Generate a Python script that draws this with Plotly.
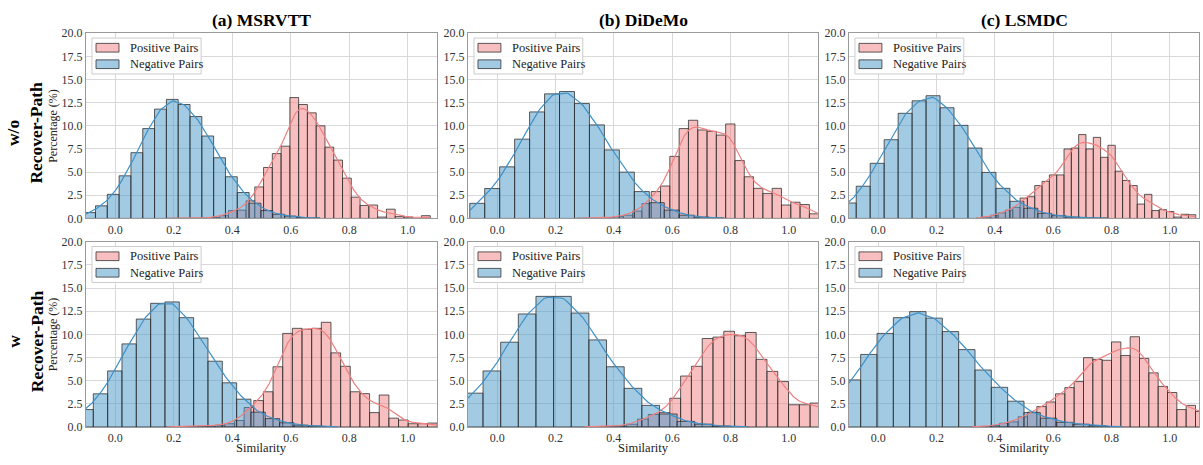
import numpy as np
import plotly.graph_objects as go

# ---------------- text ----------------
TITLES = ["(a) MSRVTT", "(b) DiDeMo", "(c) LSMDC"]
ROW_LABELS = ["w/o<br>Recover-Path", "w<br>Recover-Path"]
SERIES_NAMES = ["Positive Pairs", "Negative Pairs"]
Y_LABEL = "Percentage (%)"
X_LABEL = "Similarity"
X_TICKS = [0.0, 0.2, 0.4, 0.6, 0.8, 1.0]
Y_TICKS = [0.0, 2.5, 5.0, 7.5, 10.0, 12.5, 15.0, 17.5, 20.0]

# ---------------- data (histogram percentages, first bin edge, bin width) ----------------
# (a) MSRVTT, w/o Recover-Path
msrvtt_wo_pos_edge0, msrvtt_wo_pos_binw = 0.177, 0.030
msrvtt_wo_pos = [0.01, 0.01, 0.02, 0.03, 0.05, 0.1, 0.3, 0.85, 0.9, 1.9, 3.4, 5.5, 7.0, 7.8,
                 13.05, 12.3, 11.4, 10.0, 7.7, 6.3, 4.35, 2.3, 1.4, 1.45, 0.15, 1.0, 0.2, 0.15, 0.0, 0.3]
msrvtt_wo_neg_edge0, msrvtt_wo_neg_binw = -0.108, 0.0404
msrvtt_wo_neg = [0.63, 1.36, 2.6, 4.6, 7.1, 9.7, 11.8, 12.85, 12.3, 11.0, 8.9, 6.55, 4.5, 2.8,
                 1.65, 0.85, 0.45, 0.25, 0.1, 0.05]

# (b) DiDeMo, w/o Recover-Path
didemo_wo_pos_edge0, didemo_wo_pos_binw = 0.273, 0.0319
didemo_wo_pos = [0.02, 0.03, 0.05, 0.1, 0.2, 0.35, 0.8, 1.6, 2.9, 3.5, 6.7, 9.7, 10.6, 9.55, 9.4,
                 9.0, 10.2, 6.25, 4.5, 3.25, 2.7, 3.25, 1.45, 1.75, 1.5, 0.5, 0.15]
didemo_wo_neg_edge0, didemo_wo_neg_binw = -0.094, 0.0513
didemo_wo_neg = [1.63, 3.23, 5.57, 8.56, 11.5, 13.45, 13.7, 12.4, 10.1, 7.4, 5.0, 2.9, 1.7, 0.9,
                 0.35, 0.15, 0.05]

# (c) LSMDC, w/o Recover-Path
lsmdc_wo_pos_edge0, lsmdc_wo_pos_binw = 0.336, 0.0251
lsmdc_wo_pos = [0.05, 0.15, 0.35, 0.6, 0.9, 1.2, 2.2, 2.35, 3.55, 4.0, 4.7, 4.7, 7.5, 7.6, 9.05,
                7.5, 8.75, 6.6, 7.9, 5.1, 4.1, 3.55, 1.55, 2.6, 0.85, 0.95, 0.75, 0.15, 0.45, 0.4]
lsmdc_wo_neg_edge0, lsmdc_wo_neg_binw = -0.171, 0.0479
lsmdc_wo_neg = [0.8, 1.67, 3.48, 5.95, 8.5, 11.35, 12.7, 13.25, 11.95, 10.05, 7.6, 4.97, 3.25,
                1.85, 1.1, 0.55, 0.3, 0.15, 0.08, 0.04]

# (a) MSRVTT, w Recover-Path
msrvtt_w_pos_edge0, msrvtt_w_pos_binw = 0.1765, 0.033
msrvtt_w_pos = [0.02, 0.03, 0.05, 0.05, 0.1, 0.2, 0.35, 0.7, 2.1, 2.85, 3.8, 6.5, 10.1, 10.65,
                10.55, 10.65, 11.3, 8.0, 6.55, 3.8, 3.6, 1.55, 3.45, 0.95, 0.75, 0.35, 0.35, 0.42]
msrvtt_w_neg_edge0, msrvtt_w_neg_binw = -0.173, 0.049
msrvtt_w_neg = [0.9, 1.88, 3.58, 6.05, 8.97, 11.65, 13.35, 13.5, 11.8, 9.6, 7.1, 4.77, 3.0, 1.6,
                0.9, 0.45, 0.2, 0.1, 0.05]

# (b) DiDeMo, w Recover-Path
didemo_w_pos_edge0, didemo_w_pos_binw = 0.296, 0.037
didemo_w_pos = [0.02, 0.03, 0.05, 0.1, 0.3, 0.85, 1.35, 1.55, 3.1, 5.5, 6.55, 9.55, 9.7, 10.33,
                9.85, 10.2, 7.3, 6.0, 4.9, 2.4, 2.4, 2.58, 2.0, 1.5, 1.0, 0.6, 0.3]
didemo_w_neg_edge0, didemo_w_neg_binw = -0.1695, 0.0605
didemo_w_neg = [2.0, 3.65, 6.05, 9.15, 12.2, 14.1, 14.1, 12.3, 9.4, 6.5, 4.17, 2.33, 1.4, 0.6,
                0.3, 0.1, 0.05]

# (c) LSMDC, w Recover-Path
lsmdc_w_pos_edge0, lsmdc_w_pos_binw = 0.320, 0.032
lsmdc_w_pos = [0.03, 0.05, 0.15, 0.4, 0.55, 1.1, 1.6, 2.2, 2.7, 3.58, 4.25, 4.9, 7.48, 7.3, 7.2,
               9.18, 7.72, 9.74, 7.4, 5.84, 4.38, 3.72, 1.88, 2.33, 1.67, 1.3, 0.8, 0.5]
lsmdc_w_neg_edge0, lsmdc_w_neg_binw = -0.228, 0.056
lsmdc_w_neg = [1.5, 3.2, 5.08, 7.83, 10.1, 11.8, 12.45, 11.75, 10.3, 8.35, 6.15, 4.28, 2.78,
               1.55, 0.95, 0.5, 0.3, 0.15, 0.05]

PANELS = [
    (msrvtt_wo_pos_edge0, msrvtt_wo_pos_binw, msrvtt_wo_pos, msrvtt_wo_neg_edge0, msrvtt_wo_neg_binw, msrvtt_wo_neg),
    (didemo_wo_pos_edge0, didemo_wo_pos_binw, didemo_wo_pos, didemo_wo_neg_edge0, didemo_wo_neg_binw, didemo_wo_neg),
    (lsmdc_wo_pos_edge0, lsmdc_wo_pos_binw, lsmdc_wo_pos, lsmdc_wo_neg_edge0, lsmdc_wo_neg_binw, lsmdc_wo_neg),
    (msrvtt_w_pos_edge0, msrvtt_w_pos_binw, msrvtt_w_pos, msrvtt_w_neg_edge0, msrvtt_w_neg_binw, msrvtt_w_neg),
    (didemo_w_pos_edge0, didemo_w_pos_binw, didemo_w_pos, didemo_w_neg_edge0, didemo_w_neg_binw, didemo_w_neg),
    (lsmdc_w_pos_edge0, lsmdc_w_pos_binw, lsmdc_w_pos, lsmdc_w_neg_edge0, lsmdc_w_neg_binw, lsmdc_w_neg),
]

# ---------------- style ----------------
W, H = 1203, 465
SERIF = "Liberation Serif"
POS_FILL = "rgba(240,128,128,0.5)"
POS_LINE = "rgb(240,128,128)"
NEG_FILL = "rgba(70,150,200,0.5)"
NEG_LINE = "rgb(62,145,200)"
EDGE = "rgba(40,40,40,0.75)"
COL_PX = [(86, 437), (468, 818), (849, 1199)]
ROW_PX = [(27, 218), (242, 433)]


def px_x(p):
    return p / W


def px_y(p):
    return (H - p) / H


def smooth_curve(edge0, binw, heights, bw_factor):
    h = np.asarray(heights, dtype=float)
    n = len(h)
    centers = edge0 + binw * (np.arange(n) + 0.5)
    xs = np.linspace(edge0, edge0 + binw * n, 400)
    s = binw * bw_factor
    k = np.exp(-0.5 * ((xs[:, None] - centers[None, :]) / s) ** 2) / (s * np.sqrt(2 * np.pi))
    ys = (k * h[None, :]).sum(axis=1) * binw
    return xs, ys


fig = go.Figure()
layout = dict(
    width=W, height=H, margin=dict(l=0, r=0, t=0, b=0),
    paper_bgcolor="white", plot_bgcolor="white", barmode="overlay",
    showlegend=False, hovermode=False, font=dict(family=SERIF, color="#222"),
)
annotations = []
shapes = []

for k, (pe0, pw, ph, ne0, nw, nh) in enumerate(PANELS):
    r, c = divmod(k, 3)
    sid = "" if k == 0 else str(k + 1)
    xa, ya = "x" + sid, "y" + sid
    pc = pe0 + pw * (np.arange(len(ph)) + 0.5)
    nc = ne0 + nw * (np.arange(len(nh)) + 0.5)
    fig.add_trace(go.Bar(x=pc, y=ph, width=pw, xaxis=xa, yaxis=ya, name=SERIES_NAMES[0],
                         marker=dict(color=POS_FILL, opacity=1, line=dict(color=EDGE, width=1))))
    fig.add_trace(go.Bar(x=nc, y=nh, width=nw, xaxis=xa, yaxis=ya, name=SERIES_NAMES[1],
                         marker=dict(color=NEG_FILL, opacity=1, line=dict(color=EDGE, width=1))))
    xs, ys = smooth_curve(pe0, pw, ph, 1.0)
    fig.add_trace(go.Scatter(x=xs, y=ys, mode="lines", xaxis=xa, yaxis=ya,
                             line=dict(color=POS_LINE, width=1.2), hoverinfo="skip"))
    xs, ys = smooth_curve(ne0, nw, nh, 0.55)
    fig.add_trace(go.Scatter(x=xs, y=ys, mode="lines", xaxis=xa, yaxis=ya,
                             line=dict(color=NEG_LINE, width=1.2), hoverinfo="skip"))

    x0p, x1p = COL_PX[c]
    y0p, y1p = ROW_PX[r]
    common = dict(showgrid=True, gridcolor="#d9d9d9", gridwidth=1, showline=True,
                  linecolor="#9a9a9a", linewidth=1.2, mirror=True, ticks="", zeroline=False,
                  tickfont=dict(family=SERIF, size=12, color="#333"), tickformat=".1f")
    layout["xaxis" + sid] = dict(domain=[px_x(x0p), px_x(x1p)], range=[-0.1, 1.1],
                                 tickvals=X_TICKS, anchor=ya, **common)
    layout["yaxis" + sid] = dict(domain=[px_y(y1p), px_y(y0p)], range=[0, 20],
                                 tickvals=Y_TICKS, anchor=xa, **common)

    xr, yr = xa + " domain", ya + " domain"
    shapes.append(dict(type="rect", xref=xr, yref=yr, x0=0.017, x1=0.328, y0=0.780, y1=0.974,
                       line=dict(color="#cccccc", width=1), fillcolor="rgba(255,255,255,0.85)"))
    shapes.append(dict(type="rect", xref=xr, yref=yr, x0=0.0285, x1=0.094, y0=0.898, y1=0.945,
                       line=dict(color=EDGE, width=1), fillcolor=POS_FILL))
    shapes.append(dict(type="rect", xref=xr, yref=yr, x0=0.0285, x1=0.094, y0=0.809, y1=0.856,
                       line=dict(color=EDGE, width=1), fillcolor=NEG_FILL))
    for name, yc in zip(SERIES_NAMES, [0.9215, 0.8325]):
        annotations.append(dict(text=name, xref=xr, yref=yr, x=0.1197, y=yc, xanchor="left",
                                yanchor="middle", showarrow=False,
                                font=dict(family=SERIF, size=12.5, color="#222")))

    if r == 0:
        annotations.append(dict(text="<b>" + TITLES[c] + "</b>", xref="paper", yref="paper",
                                x=px_x((x0p + x1p) / 2), y=px_y(13), xanchor="center",
                                yanchor="middle", showarrow=False,
                                font=dict(family=SERIF, size=17.5, color="black")))
    if r == 1:
        annotations.append(dict(text=X_LABEL, xref="paper", yref="paper",
                                x=px_x((x0p + x1p) / 2), y=px_y(455), xanchor="center",
                                yanchor="middle", showarrow=False,
                                font=dict(family=SERIF, size=12.5, color="#222")))
    if c == 0:
        annotations.append(dict(text=Y_LABEL, xref="paper", yref="paper", x=px_x(53),
                                y=px_y((y0p + y1p) / 2), xanchor="center", yanchor="middle",
                                textangle=-90, showarrow=False,
                                font=dict(family=SERIF, size=12, color="#222")))
        annotations.append(dict(text="<b>" + ROW_LABELS[r] + "</b>", xref="paper", yref="paper",
                                x=px_x(25), y=px_y((y0p + y1p) / 2 + 7), xanchor="center",
                                yanchor="middle", textangle=-90, showarrow=False,
                                font=dict(family=SERIF, size=17.5, color="black")))

layout["annotations"] = annotations
layout["shapes"] = shapes
fig.update_layout(**layout)
fig.write_html(
    "out.html",
    config={"displayModeBar": False},
    post_script=(
        "document.body.style.margin='0';"
        "var gd=document.getElementById('{plot_id}');"
        "gd.style.position='absolute';gd.style.left='0px';gd.style.top='0px';"
    ),
)
